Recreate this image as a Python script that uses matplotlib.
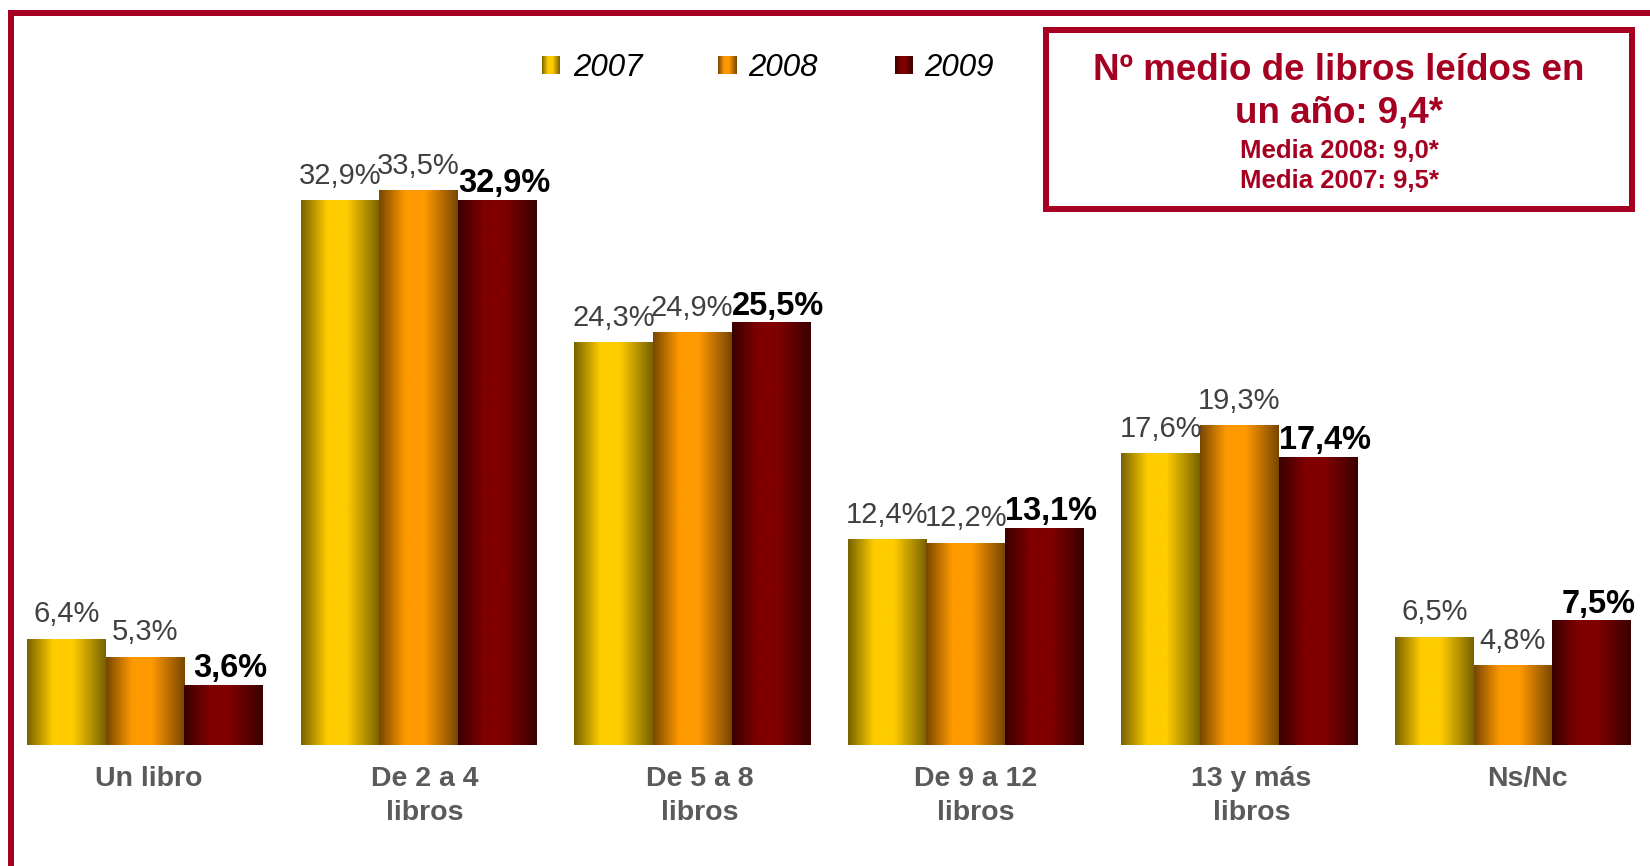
import matplotlib
matplotlib.use("Agg")
import matplotlib.pyplot as plt
import numpy as np
from matplotlib.patches import Rectangle
from matplotlib.lines import Line2D
from matplotlib.colors import to_rgb
from matplotlib.transforms import ScaledTranslation

plt.rcParams['font.family'] = ['Liberation Sans', 'DejaVu Sans']

# data
categories = ["Un libro", "De 2 a 4\nlibros", "De 5 a 8\nlibros",
              "De 9 a 12\nlibros", "13 y más\nlibros", "Ns/Nc"]
years = ["2007", "2008", "2009"]
v2007 = [6.4, 32.9, 24.3, 12.4, 17.6, 6.5]
v2008 = [5.3, 33.5, 24.9, 12.2, 19.3, 4.8]
v2009 = [3.6, 32.9, 25.5, 13.1, 17.4, 7.5]
box_title = ["Nº medio de libros leídos en", "un año: 9,4*"]
box_lines = ["Media 2008: 9,0*", "Media 2007: 9,5*"]

W, H = 1650, 866
RED = "#A50021"
edge_dark = {"2007": "#776200", "2008": "#784600", "2009": "#3a0000"}
center = {"2007": "#FFCC00", "2008": "#FF9900", "2009": "#800000"}


def gradient(year, n=200):
    # dark edge -> bright middle -> dark edge, left to right
    t = np.linspace(0, 1, n)
    w = np.interp(t, [0, 0.33, 0.58, 1], [0, 1, 1, 0])
    d = np.array(to_rgb(edge_dark[year]))
    c = np.array(to_rgb(center[year]))
    row = d[None, :] * (1 - w[:, None]) + c[None, :] * w[:, None]
    return row[None, :, :]


fig = plt.figure(figsize=(16.5, 8.66), dpi=100)
ax = fig.add_axes([0, 121 / H, 1, 662 / H])

x = np.arange(len(categories))
width = 0.2875
for i, (year, vals) in enumerate(zip(years, [v2007, v2008, v2009])):
    bars = ax.bar(x + (i - 1) * width, vals, width, color='none', edgecolor='none')
    bold = year == "2009"
    for b, v in zip(bars, vals):
        x0 = b.get_x()
        ax.imshow(gradient(year), extent=[x0, x0 + b.get_width(), 0, b.get_height()],
                  aspect='auto', zorder=2, interpolation='bilinear')
        ax.annotate(f"{v:.1f}%".replace('.', ','), (x0 + b.get_width() / 2, v),
                    xytext=(5 if bold else 0, 5.8 if bold else 12.2),
                    textcoords='offset points', ha='center', va='baseline',
                    fontsize=23.5 if bold else 21,
                    fontweight='bold' if bold else 'normal',
                    color='black' if bold else '#404040', zorder=3)

ax.set_xlim(-0.530, 5.5007)
ax.set_ylim(0, 40)
ax.set_xticks(x, categories, fontsize=20.5, fontweight='bold', color='#5a5a5a')
ax.tick_params(axis='x', length=0, pad=15.3)
for i, lbl in enumerate(ax.get_xticklabels()):
    lbl.set_linespacing(1.37)
    # labels drift slightly right of group centres in the original
    lbl.set_transform(lbl.get_transform() +
                      ScaledTranslation((4 + 2 * i) / 100, 0, fig.dpi_scale_trans))
ax.set_yticks([])
for s in ax.spines.values():
    s.set_visible(False)
ax.patch.set_alpha(0)

# legend with gradient swatches
sw_x = [542, 718, 895]
tx_x = [573, 748, 924]
for year, sx, tx in zip(years, sw_x, tx_x):
    sax = fig.add_axes([sx / W, 1 - 74 / H, 18 / W, 18 / H])
    sax.imshow(gradient(year), aspect='auto', interpolation='bilinear')
    sax.axis('off')
    fig.text(tx / W, 1 - 76 / H, year, fontsize=22.5, style='italic',
             va='baseline', ha='left', color='black')

# info box
fig.add_artist(Rectangle((1046 / W, 1 - 209 / H), (1632 - 1046) / W, (209 - 30) / H,
                         transform=fig.transFigure, fill=False, lw=4.3, edgecolor=RED))
for txt, yb in zip(box_title, [80, 123]):
    fig.text(1339 / W, 1 - yb / H, txt, ha='center', va='baseline', fontsize=26.5,
             fontweight='bold', color=RED)
for txt, yb in zip(box_lines, [158, 188]):
    fig.text(1339 / W, 1 - yb / H, txt, ha='center', va='baseline', fontsize=18.5,
             fontweight='bold', color=RED)

# outer frame (top and left edges visible)
fig.add_artist(Line2D([8 / W, 1], [1 - 13 / H] * 2, lw=4.3, color=RED,
                      transform=fig.transFigure, solid_capstyle='butt'))
fig.add_artist(Line2D([11 / W] * 2, [1 - 10 / H, 0], lw=4.3, color=RED,
                      transform=fig.transFigure, solid_capstyle='butt'))

fig.savefig('out.png', dpi=100)
